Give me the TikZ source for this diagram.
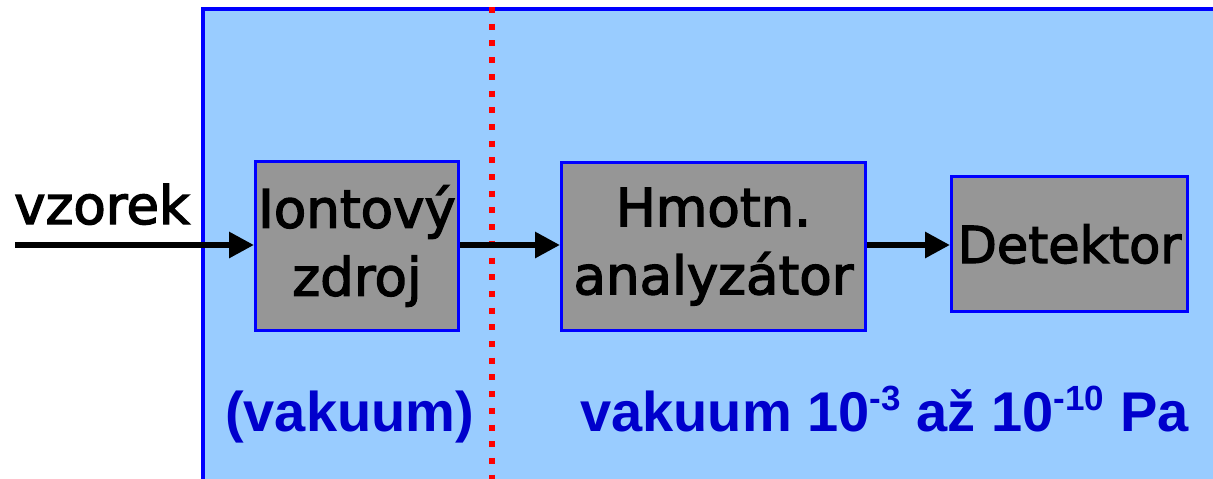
\documentclass[tikz,border=0pt]{standalone}
\usepackage{fontspec}
\setmainfont{DejaVu Sans}
\newfontface\boxfont{DejaVu Sans}[FakeBold=2.5]
\newfontfamily\lblfont{Liberation Sans}
\usetikzlibrary{arrows.meta}
\definecolor{bgblue}{HTML}{99CCFF}
\definecolor{boxgray}{HTML}{969696}
\definecolor{lblblue}{HTML}{0000CC}
\definecolor{edgeblue}{HTML}{0000FF}
\tikzset{
  blockbox/.style={draw=edgeblue, fill=boxgray, line width=3pt, inner sep=0pt,
    align=center, font=\boxfont\fontsize{53}{68}\selectfont, text=black},
  flowarrow/.style={line width=6pt, -{Triangle[length=25pt,width=25pt]}},
  bluelabel/.style={anchor=base west, inner sep=0pt, text=lblblue,
    font=\lblfont\bfseries\fontsize{56}{60}\selectfont},
}
\newcommand{\supx}[1]{\raisebox{21pt}{\fontsize{35}{35}\selectfont #1}}
\begin{document}
\begin{tikzpicture}[x=1pt,y=-1pt]
\useasboundingbox (0,0) rectangle (1213,479);
\clip (0,0) rectangle (1213,479);
% background vacuum area
\draw[line width=4pt, draw=edgeblue, fill=bgblue] (203,9) rectangle (1240,510);
% red dotted separator
\draw[red, line width=6pt, dash pattern=on 6pt off 10.7pt] (492,7) -- (492,479);
% blocks
\node[blockbox, minimum width=203pt, minimum height=169pt] (src) at (357,246) {Iontový\\zdroj};
\node[blockbox, minimum width=304pt, minimum height=168pt] (ana) at (713.5,246.5) {Hmotn.\\analyzátor};
\node[blockbox, minimum width=236pt, minimum height=135pt, font=\boxfont\fontsize{51}{60}\selectfont] (det) at (1069.5,244) {Detektor};
% input
\coordinate (in) at (15,245);
\node[anchor=base west, inner sep=0pt, font=\boxfont\fontsize{53}{60}\selectfont] (vz) at (14,224) {vzorek};
% arrows
\draw[flowarrow] (in) -- (in -| src.west);
\draw[flowarrow] (src.east |- in) -- (in -| ana.west);
\draw[flowarrow] (ana.east |- in) -- (in -| det.west);
% labels
\node[bluelabel] (vak1) at (225,431) {(vakuum)};
\node[bluelabel] (vak2) at (580,431) {vakuum 10\supx{-3} a\kern0.5ptž 10\supx{-10} Pa};
\end{tikzpicture}
\end{document}
